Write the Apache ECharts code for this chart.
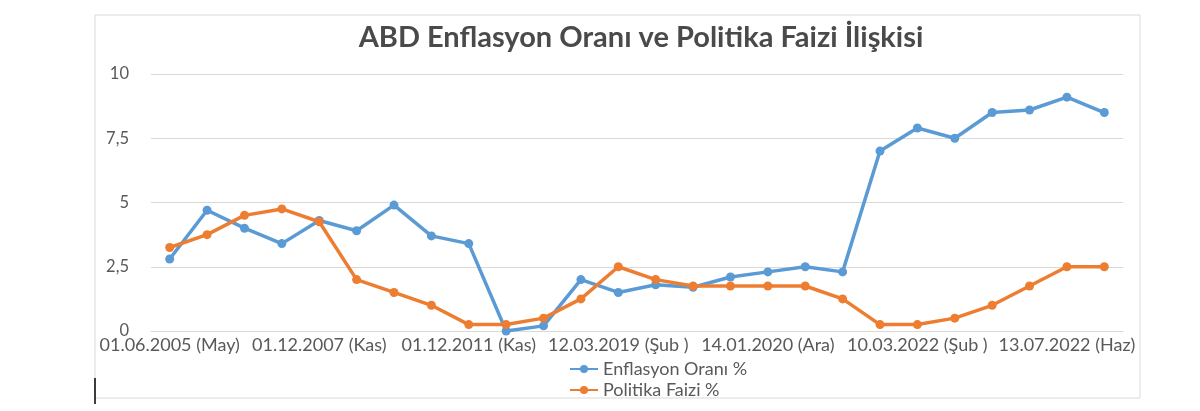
<!DOCTYPE html>
<html><head><meta charset="utf-8">
<script src="https://cdn.jsdelivr.net/npm/echarts@6/dist/echarts.min.js"></script>
<style>html,body{margin:0;padding:0;background:#fff}#c{width:1200px;height:411px}</style>
</head><body><div id="c"></div>
<script>
const categories = ["01.06.2005 (May)","","","","01.12.2007 (Kas)","","","","01.12.2011 (Kas)","","","","12.03.2019 (Şub )","","","","14.01.2020 (Ara)","","","","10.03.2022 (Şub )","","","","13.07.2022 (Haz)",""];
const enflasyon = [2.8,4.7,4.0,3.4,4.3,3.9,4.9,3.7,3.4,0,0.2,2.0,1.5,1.8,1.7,2.1,2.3,2.5,2.3,7.0,7.9,7.5,8.5,8.6,9.1,8.5];
const faiz = [3.25,3.75,4.5,4.75,4.25,2.0,1.5,1.0,0.25,0.25,0.5,1.25,2.5,2.0,1.75,1.75,1.75,1.75,1.25,0.25,0.25,0.5,1.0,1.75,2.5,2.5];
const yTicks = [0,2.5,5,7.5,10];
const chart = echarts.init(document.getElementById('c'));
const font = 'Lato, "Open Sans", sans-serif';
chart.setOption({
  animation:false,
  textStyle:{fontFamily:font},
  graphic:[{type:'rect',shape:{x:95,y:15,width:1045,height:383},style:{fill:'none',stroke:'#d9d9d9',lineWidth:1}},
           {type:'line',shape:{x1:95,y1:378,x2:95,y2:404},style:{stroke:'#000',lineWidth:1.5}}],
  title:{text:'ABD Enflasyon Oranı ve Politika Faizi İlişkisi',left:636,top:18,textAlign:'center',
    textStyle:{fontSize:29,fontWeight:'bold',color:'#4a4a4a',fontFamily:font}},
  legend:{orient:'vertical',left:564,top:355,itemGap:3,itemWidth:28,itemHeight:10,
    textStyle:{fontSize:18,color:'#595959'},data:['Enflasyon Oranı %','Politika Faizi %']},
  grid:{left:151,right:77,top:74,bottom:80},
  xAxis:{type:'category',data:categories,boundaryGap:true,
    axisLine:{lineStyle:{color:'#d9d9d9'}},axisTick:{show:false},
    axisLabel:{interval:0,color:'#595959',fontSize:18,margin:5,hideOverlap:false}},
  yAxis:{type:'value',min:0,max:10,interval:2.5,
    axisLine:{show:false},axisTick:{show:false},
    splitLine:{lineStyle:{color:'#d9d9d9'}},
    axisLabel:{color:'#595959',fontSize:16.5,margin:22,formatter:v=>yTicks.includes(v)?String(v).replace('.',','):''}},
  series:[
    {name:'Enflasyon Oranı %',type:'line',data:enflasyon,symbol:'circle',symbolSize:9,
      lineStyle:{width:3.5,color:'#5B9BD5'},itemStyle:{color:'#5B9BD5'}},
    {name:'Politika Faizi %',type:'line',data:faiz,symbol:'circle',symbolSize:9,
      lineStyle:{width:3.5,color:'#ED7D31'},itemStyle:{color:'#ED7D31'}}
  ]
});
</script></body></html>
